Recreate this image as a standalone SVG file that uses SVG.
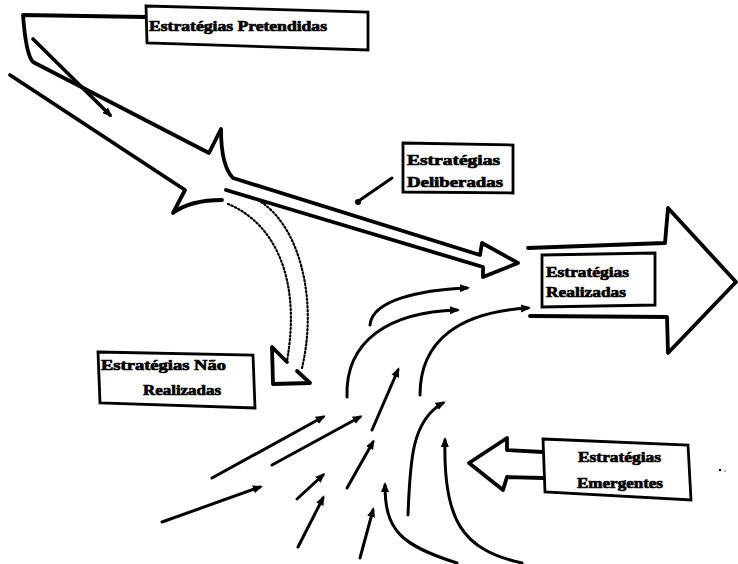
<svg xmlns="http://www.w3.org/2000/svg" width="738" height="564" viewBox="0 0 738 564">
<defs>
<style>
.ln{fill:none;stroke:#000;stroke-width:3.8;stroke-linejoin:round;stroke-linecap:round}
.th{fill:none;stroke:#000;stroke-width:3;stroke-linecap:round}
.box{fill:#fff;stroke:#000;stroke-width:2.8}
.dot{fill:none;stroke:#000;stroke-width:2.2;stroke-dasharray:1.4 2.4;stroke-linecap:round}
.t{font-family:"Liberation Serif","Times New Roman",serif;font-weight:bold;font-size:15px;fill:#000;stroke:#000;stroke-width:0.7}
</style>
<marker id="ah" viewBox="0 0 10 10" refX="7" refY="5" markerWidth="10" markerHeight="10" markerUnits="userSpaceOnUse" orient="auto">
<path d="M0,1 L10,5 L0,9 z" fill="#000"/>
</marker>
</defs>
<rect width="738" height="564" fill="#fff"/>
<g id="connectors">
<path class="th" marker-end="url(#ah)" d="M370,325 C372,300 420,290 467,288"/>
<path class="th" marker-end="url(#ah)" d="M347,397 C345,340 390,312 457,310"/>
<path class="th" marker-end="url(#ah)" d="M420,395 C420,340 460,312 528,308"/>
<path class="th" marker-end="url(#ah)" d="M372,430 L398,370"/>
<path class="th" marker-end="url(#ah)" d="M212,478 L323,417"/>
<path class="th" marker-end="url(#ah)" d="M272,465 L360,417"/>
<path class="th" marker-end="url(#ah)" d="M162,522 Q210,505 260,487"/>
<path class="th" marker-end="url(#ah)" d="M297,499 L323,475"/>
<path class="th" marker-end="url(#ah)" d="M298,547 L323,498"/>
<path class="th" marker-end="url(#ah)" d="M347,488 L373,442"/>
<path class="th" marker-end="url(#ah)" d="M360,558 L373,510"/>
<path class="th" marker-end="url(#ah)" d="M457,563 C400,545 385,530 385,485"/>
<path class="th" marker-end="url(#ah)" d="M408,515 C410,460 412,420 443,403"/>
<path class="th" marker-end="url(#ah)" d="M522,563 C462,550 443,520 445,440"/>
<path class="th" d="M392,178 L360,200"/>
<circle cx="358" cy="202" r="3" fill="#000"/>
<path class="th" style="stroke-width:3.6" marker-end="url(#ah)" d="M33,39 L110,115"/>
<path class="dot" d="M228,204 C272,222 302,275 287,361"/>
<path class="dot" d="M258,200 C300,225 318,300 302,368"/>
</g>
<g id="pretendidas">
<path class="ln" d="M146,17 L23,15 Q26,55 33,62 L209,153 L221,129 Q221,166 233,178 L480,255 L482,243 L518,263 L483,277 L483,267 L226,190"/>
<path class="ln" d="M10,75 L185,190 L173,213 Q190,200 222,200"/>
<polygon class="box" points="146,6 368,12 368,50 147,43"/>
<text class="t" x="149" y="31" textLength="178" lengthAdjust="spacingAndGlyphs">Estratégias Pretendidas</text>
</g>
<g id="deliberadas">
<polygon class="box" points="403,143 513,145 513,193 403,192"/>
<text class="t" x="407" y="165" textLength="93" lengthAdjust="spacingAndGlyphs">Estratégias</text>
<text class="t" x="407" y="187" textLength="96" lengthAdjust="spacingAndGlyphs">Deliberadas</text>
</g>
<g id="realizadas">
<path class="ln" d="M528,248 L665,243 L668,208 L736,282 L668,353 L667,317 L530,316"/>
<polygon class="box" points="542,255 655,253 655,305 542,307"/>
<text class="t" x="546" y="277" textLength="83" lengthAdjust="spacingAndGlyphs">Estratégias</text>
<text class="t" x="546" y="297" textLength="80" lengthAdjust="spacingAndGlyphs">Realizadas</text>
</g>
<g id="nao-realizadas">
<path class="ln" d="M287,362 L272,347 L273,384 L310,383 L297,371"/>
<polygon class="box" points="98,352 253,355 255,408 100,403"/>
<text class="t" x="101" y="370" textLength="125" lengthAdjust="spacingAndGlyphs">Estratégias Não</text>
<text class="t" x="143" y="395" textLength="78" lengthAdjust="spacingAndGlyphs">Realizadas</text>
</g>
<g id="emergentes">
<path class="ln" d="M543,452 L507,450 L507,438 L469,463 L503,490 L507,477 L543,478"/>
<polygon class="box" points="543,439 688,445 691,500 545,492"/>
<text class="t" x="578" y="462" textLength="83" lengthAdjust="spacingAndGlyphs">Estratégias</text>
<text class="t" x="577" y="488" textLength="86" lengthAdjust="spacingAndGlyphs">Emergentes</text>
</g>
<circle cx="720" cy="470" r="1.2" fill="#000"/>
<circle cx="725" cy="471" r="0.8" fill="#555"/>
</svg>
